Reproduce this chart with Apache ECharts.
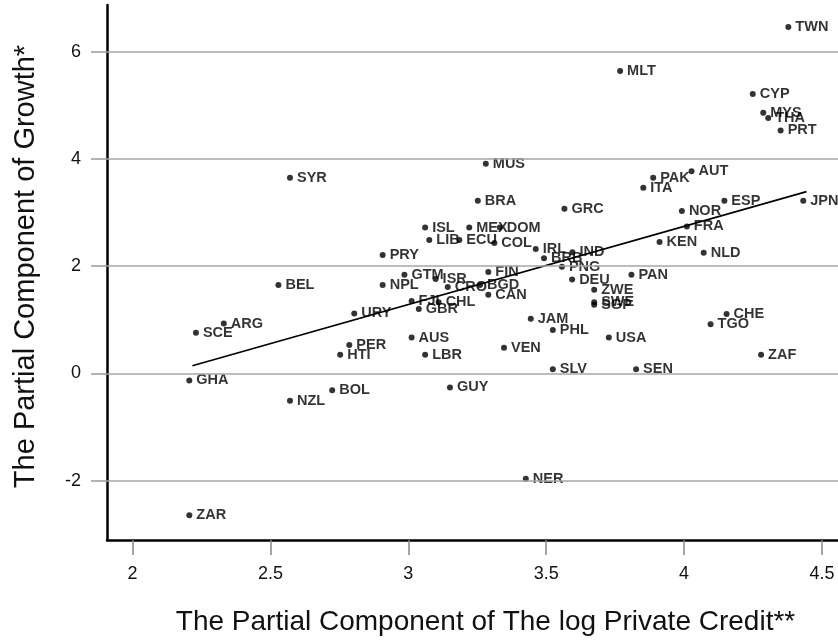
<!DOCTYPE html>
<html>
<head>
<meta charset="utf-8">
<script src="https://cdn.jsdelivr.net/npm/echarts@6/dist/echarts.min.js"></script>
<style>
  html, body { margin: 0; padding: 0; background: #fff; }
  #main { width: 838px; height: 643px; }
</style>
</head>
<body>
<div id="main"></div>
<script>
// country codes with their partial credit (x) and partial growth (y)
var countries = ['TWN', 'MLT', 'CYP', 'MYS', 'THA', 'PRT', 'MUS', 'SYR', 'PAK', 'AUT', 'ITA',
  'BRA', 'GRC', 'ESP', 'JPN', 'NOR', 'ISL', 'MEX', 'DOM', 'FRA', 'LIB', 'ECU', 'COL', 'KEN',
  'IRL', 'IND', 'NLD', 'PRY', 'BRB', 'PNG', 'GTM', 'FIN', 'PAN', 'ISR', 'DEU', 'BEL', 'NPL',
  'CRO', 'BGD', 'ZWE', 'CAN', 'FJI', 'CHL', 'SWE', 'SGP', 'GBR', 'URY', 'CHE', 'JAM', 'ARG',
  'TGO', 'PHL', 'SCE', 'AUS', 'USA', 'PER', 'VEN', 'HTI', 'LBR', 'ZAF', 'SLV', 'SEN', 'GHA',
  'GUY', 'BOL', 'NZL', 'NER', 'ZAR'];
var credit = [4.378, 3.768, 4.249, 4.287, 4.305, 4.350, 3.281, 2.571, 3.888, 4.027, 3.852,
  3.252, 3.566, 4.146, 4.432, 3.992, 3.061, 3.221, 3.332, 4.010, 3.076, 3.185, 3.312, 3.911,
  3.462, 3.595, 4.071, 2.907, 3.492, 3.557, 2.986, 3.290, 3.809, 3.099, 3.594, 2.529, 2.907,
  3.143, 3.260, 3.674, 3.290, 3.012, 3.110, 3.674, 3.674, 3.038, 2.804, 4.154, 3.444, 2.331,
  4.096, 3.524, 2.230, 3.012, 3.727, 2.786, 3.347, 2.753, 3.061, 4.279, 3.524, 3.826, 2.206,
  3.151, 2.724, 2.571, 3.426, 2.206];
var growth = [6.46, 5.64, 5.21, 4.86, 4.76, 4.53, 3.91, 3.65, 3.65, 3.77, 3.46,
  3.22, 3.07, 3.22, 3.22, 3.03, 2.72, 2.72, 2.72, 2.74, 2.49, 2.49, 2.43, 2.45,
  2.32, 2.26, 2.25, 2.21, 2.15, 1.99, 1.84, 1.89, 1.84, 1.76, 1.75, 1.65, 1.65,
  1.61, 1.65, 1.56, 1.47, 1.35, 1.33, 1.33, 1.28, 1.20, 1.12, 1.11, 1.02, 0.93,
  0.92, 0.81, 0.76, 0.67, 0.67, 0.53, 0.48, 0.35, 0.35, 0.35, 0.08, 0.08, -0.13,
  -0.26, -0.31, -0.51, -1.96, -2.64];

// fitted line end points
var fitX = [2.217, 4.444];
var fitY = [0.145, 3.39];

var xTicks = [2, 2.5, 3, 3.5, 4, 4.5];
var yTicks = [-2, 0, 2, 4, 6];

var points = countries.map(function (c, i) {
  return { name: c, value: [credit[i], growth[i]] };
});
var fitLine = fitX.map(function (x, i) { return [x, fitY[i]]; });

var chart = echarts.init(document.getElementById('main'));
chart.setOption({
  animation: false,
  backgroundColor: '#fff',
  textStyle: { fontFamily: 'Liberation Sans, Arial, Helvetica, sans-serif' },
  grid: { left: 107, right: 0, top: 5, bottom: 103 },
  xAxis: {
    type: 'value',
    min: 1.9075,
    max: 4.558,
    name: 'The Partial Component of The log Private Credit**',
    nameLocation: 'middle',
    nameGap: 68,
    nameTextStyle: { fontSize: 28, color: '#111', padding: [0, 0, 0, 26] },
    axisLine: { show: true, onZero: false, lineStyle: { color: '#000', width: 2.5 } },
    axisTick: { show: true, length: 15, customValues: xTicks, lineStyle: { color: '#888', width: 1.5 } },
    axisLabel: { customValues: xTicks, margin: 25, fontSize: 18, color: '#111' },
    splitLine: { show: false }
  },
  yAxis: {
    type: 'value',
    min: -3.103,
    max: 6.868,
    name: 'The Partial Component of Growth*',
    nameLocation: 'middle',
    nameGap: 67,
    nameRotate: 90,
    nameTextStyle: { fontSize: 29, color: '#111', padding: [0, 0, 0, 12] },
    axisLine: { show: true, onZero: false, lineStyle: { color: '#000', width: 2.5 } },
    axisTick: { show: true, length: 16, customValues: yTicks, lineStyle: { color: '#999', width: 1.5 } },
    axisLabel: { customValues: yTicks, margin: 26, fontSize: 18, color: '#111' },
    splitLine: { show: false }
  },
  series: [
    {
      type: 'line',
      data: fitLine,
      symbol: 'none',
      silent: true,
      lineStyle: { color: '#000', width: 1.6 },
      markLine: {
        silent: true,
        symbol: 'none',
        label: { show: false },
        lineStyle: { color: '#a6a6a6', width: 1.5, type: 'solid' },
        data: yTicks.map(function (v) { return { yAxis: v }; })
      },
      z: 3
    },
    {
      type: 'scatter',
      data: points,
      symbol: 'circle',
      symbolSize: 6,
      itemStyle: { color: '#000' },
      label: {
        show: true,
        position: 'right',
        distance: 4,
        formatter: '{b}',
        fontSize: 14.5,
        fontWeight: 'bold',
        color: '#000'
      },
      z: 4
    }
  ]
});
</script>
</body>
</html>
